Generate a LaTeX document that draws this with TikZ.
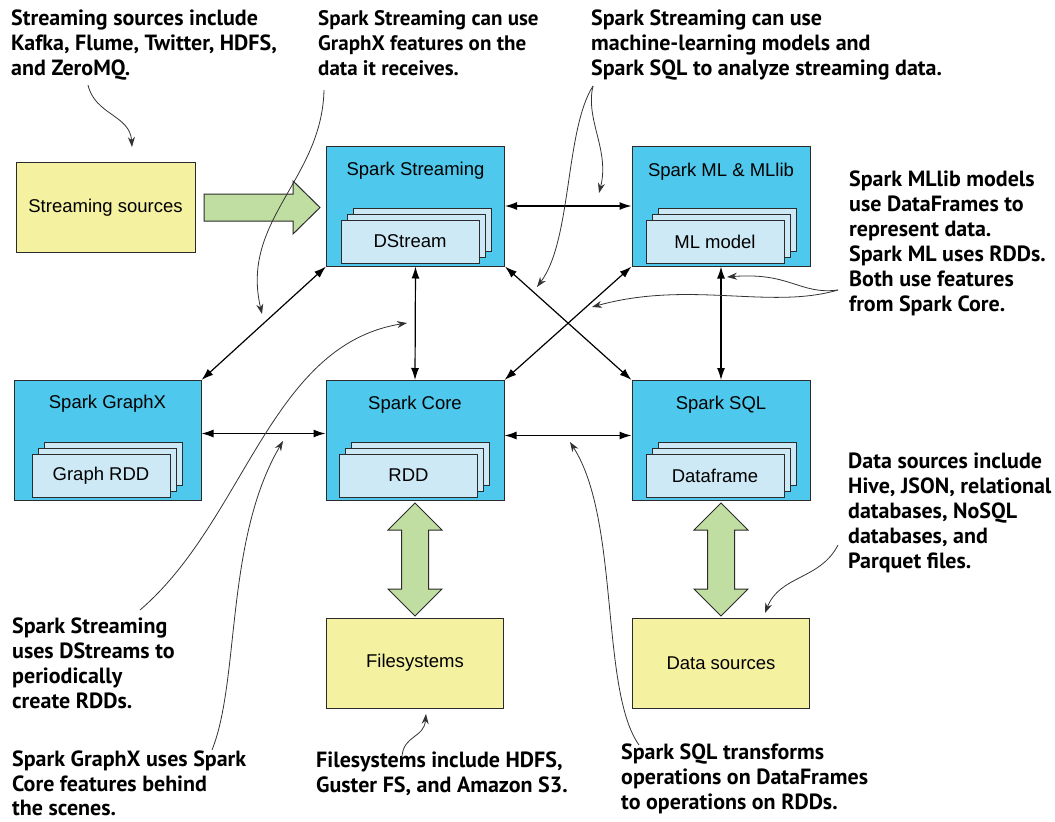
\documentclass[tikz,border=0pt]{standalone}
\usepackage{fontspec}
\setmainfont{Liberation Sans}
\newfontfamily\notefont{PT Sans}
\usetikzlibrary{arrows.meta, calc}

\definecolor{sparkblue}{HTML}{4EC8EC}
\definecolor{layerblue}{HTML}{CDE9F5}
\definecolor{srcyellow}{HTML}{F4F1A0}
\definecolor{flowgreen}{HTML}{C0DEA1}
\definecolor{edge}{HTML}{2B2B2B}

\tikzset{
  comp/.style={draw=edge, line width=1pt, fill=sparkblue,
    minimum width=178, minimum height=120},
  store/.style={draw=edge, line width=1pt, fill=srcyellow,
    minimum width=177, minimum height=90, font=\fontsize{18.5}{22}\selectfont},
  layer/.style={draw=edge, line width=1pt, fill=layerblue,
    minimum width=138, minimum height=43, font=\fontsize{18.5}{22}\selectfont},
  heading/.style={font=\fontsize{18.5}{22}\selectfont},
  link/.style={line width=1.2pt,
    {Latex[length=12pt,width=8pt]}-{Latex[length=12pt,width=8pt]}},
  fat/.style={draw=edge, line width=1pt, fill=flowgreen},
  note/.style={anchor=north west, align=left, inner sep=0pt,
    font=\notefont\bfseries\fontsize{22}{25}\selectfont},
  hint/.style={draw=black!80, line width=.8pt, -{Stealth[length=10pt,width=7pt]}}
}

% three stacked cards, the front one named #1
\newcommand{\pile}[3]{%
  \node[layer] (#1-2) at ($(#2)+(12,-12)$) {};
  \node[layer] (#1-1) at ($(#2)+(6,-6)$) {};
  \node[layer] (#1) at (#2) {#3};}

\begin{document}
\begin{tikzpicture}[x=1pt,y=-1pt]
\useasboundingbox (0,0) rectangle (1055,822);

% Spark components
\node[comp] (streaming) at (415.5,206) {};
\node[comp] (ml) at (721,206) {};
\node[comp, minimum width=187] (graphx) at (107.5,440.5) {};
\node[comp] (core) at (415,440.5) {};
\node[comp] (sql) at (721,440.5) {};
\node[heading] (streaming-t) at ($(streaming.north)+(0,25)$) {Spark Streaming};
\node[heading] (ml-t) at ($(ml.north)+(0,26)$) {Spark ML \& MLlib};
\node[heading] (graphx-t) at ($(graphx.north)+(0,24)$) {Spark GraphX};
\node[heading] (core-t) at ($(core.north)+(0,25)$) {Spark Core};
\node[heading] (sql-t) at ($(sql.north)+(0,25)$) {Spark SQL};
\pile{dstream}{410,241.5}{DStream}
\pile{mlmodel}{715,242}{ML model}
\pile{graphrdd}{101,476}{Graph RDD}
\pile{rdd}{408.5,475.5}{RDD}
\pile{dataframe}{715,475.5}{Dataframe}

% sources
\node[store, minimum width=179] (sources) at (105.5,207.5) {Streaming sources};
\node[store] (files) at (415,663) {Filesystems};
\node[store] (datasrc) at (721,663) {Data sources};

% big green arrows
\draw[fat] (204,194) -- (293,194) -- (293,181) -- (320,207.5) -- (293,234)
  -- (293,221) -- (204,221) -- cycle;
\foreach \cx in {415,721}
  \draw[fat] (\cx,503) -- (\cx+27,530) -- (\cx+13.5,530) -- (\cx+13.5,589)
    -- (\cx+27,589) -- (\cx,616) -- (\cx-27,589) -- (\cx-13.5,589)
    -- (\cx-13.5,530) -- (\cx-27,530) -- cycle;

% links between components
\draw[link] (streaming.east) -- (ml.west);
\draw[link] (streaming.south) -- (core.north);
\draw[link] (ml.south) -- (sql.north);
\draw[link] ([yshift=7pt]graphx.east) -- ([yshift=7pt]core.west);
\draw[link] ([yshift=5pt]core.east) -- ([yshift=5pt]sql.west);
\draw[link] (streaming.south west) -- (graphx.north east);
\draw[link] (ml.south west) -- (core.north east);
\draw[link] (streaming.south east) -- (sql.north west);

% notes
\node[note] (n-sources) at (11,9.5) {Streaming sources include\\Kafka, Flume, Twitter, HDFS,\\and ZeroMQ.};
\node[note, font=\notefont\bfseries\fontsize{21}{25}\selectfont] (n-graphx) at (318,10) {Spark Streaming can use\\GraphX features on the\\data it receives.};
\node[note] (n-ml) at (591,9.5) {Spark Streaming can use\\machine-learning models and\\Spark SQL to analyze streaming data.};
\node[note] (n-models) at (849,170.5) {Spark MLlib models\\use DataFrames to\\represent data.\\Spark ML uses RDDs.\\Both use features\\from Spark Core.};
\node[note] (n-data) at (848,452.5) {Data sources include\\Hive, JSON, relational\\databases, NoSQL\\databases, and\\Parquet files.};
\node[note] (n-dstream) at (12,617.5) {Spark Streaming\\uses DStreams to\\periodically\\create RDDs.};
\node[note, font=\notefont\bfseries\fontsize{22}{24.5}\selectfont] (n-behind) at (12,751) {Spark GraphX uses Spark\\Core features behind\\the scenes.};
\node[note] (n-files) at (316,752) {Filesystems include HDFS,\\Guster FS, and Amazon S3.};
\node[note] (n-sqlrdd) at (621,743.5) {Spark SQL transforms\\operations on DataFrames\\to operations on RDDs.};

% note pointers
\coordinate (p-sources) at (88,85);
\coordinate (p-graphx) at (324,90);
\coordinate (p-ml) at (593,86);
\coordinate (p-models) at (838,290);
\coordinate (p-data) at (838,545);
\coordinate (p-dstream) at (140,610);
\coordinate (p-behind) at (212,750);
\coordinate (p-files) at (402,756);
\coordinate (p-sqlrdd) at (639,745);
\draw[hint] (p-sources) .. controls (95,115) and (130,115) .. (132,147);
\draw[hint] (p-graphx) .. controls (322,180) and (240,220) .. (262,314);
\draw[hint] (p-ml) .. controls (565,130) and (572,240) .. (537,287);
\draw[hint] (p-ml) .. controls (585,120) and (610,150) .. (599,193);
\draw[hint] (p-models) .. controls (800,295) and (790,272) .. (727,277);
\draw[hint] (p-models) .. controls (770,310) and (690,280) .. (592,307);
\draw[hint] (p-data) .. controls (820,580) and (780,575) .. (765,613);
\draw[hint] (p-dstream) .. controls (245,520) and (270,345) .. (407,323);
\draw[hint] (p-behind) .. controls (240,680) and (225,540) .. (283,441);
\draw[hint] (p-files) .. controls (404,735) and (424,738) .. (426,714);
\draw[hint] (p-sqlrdd) .. controls (600,690) and (620,520) .. (570,442);
\end{tikzpicture}
\end{document}
